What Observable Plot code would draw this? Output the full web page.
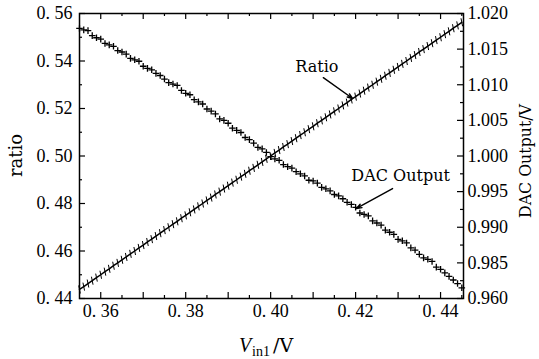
<!DOCTYPE html>
<html><head><meta charset="utf-8">
<script src="https://cdn.jsdelivr.net/npm/d3@7"></script>
<script src="https://cdn.jsdelivr.net/npm/@observablehq/plot@0.6"></script>
<style>body{margin:0;background:#fff} svg{display:block}</style>
</head><body><div id="chart"></div>
<script>
// ---- data ----
const vin = [0.355,0.356,0.357,0.358,0.359,0.360,0.361,0.362,0.363,0.364,
0.365,0.366,0.367,0.368,0.369,0.370,0.371,0.372,0.373,0.374,
0.375,0.376,0.377,0.378,0.379,0.380,0.381,0.382,0.383,0.384,
0.385,0.386,0.387,0.388,0.389,0.390,0.391,0.392,0.393,0.394,
0.395,0.396,0.397,0.398,0.399,0.400,0.401,0.402,0.403,0.404,
0.405,0.406,0.407,0.408,0.409,0.410,0.411,0.412,0.413,0.414,
0.415,0.416,0.417,0.418,0.419,0.420,0.421,0.422,0.423,0.424,
0.425,0.426,0.427,0.428,0.429,0.430,0.431,0.432,0.433,0.434,
0.435,0.436,0.437,0.438,0.439,0.440,0.441,0.442,0.443,0.444,0.445];
const ratio = [0.4438,0.4450,0.4463,0.4475,0.4488,0.4500,0.4513,0.4525,0.4538,0.4550,
0.4563,0.4575,0.4588,0.4600,0.4613,0.4625,0.4638,0.4650,0.4663,0.4675,
0.4688,0.4700,0.4713,0.4725,0.4738,0.4750,0.4763,0.4775,0.4788,0.4800,
0.4813,0.4825,0.4838,0.4850,0.4863,0.4875,0.4888,0.4900,0.4913,0.4925,
0.4938,0.4950,0.4963,0.4975,0.4988,0.5000,0.5013,0.5025,0.5038,0.5050,
0.5063,0.5075,0.5088,0.5100,0.5113,0.5125,0.5138,0.5150,0.5163,0.5175,
0.5188,0.5200,0.5213,0.5225,0.5238,0.5250,0.5263,0.5275,0.5288,0.5300,
0.5313,0.5325,0.5338,0.5350,0.5363,0.5375,0.5388,0.5400,0.5413,0.5425,
0.5438,0.5450,0.5463,0.5475,0.5488,0.5500,0.5513,0.5525,0.5538,0.5550,0.5563];
const dacOutput = [1.0179,1.0177,1.0176,1.0169,1.0166,1.0164,1.0158,1.0156,1.0154,1.0148,
1.0146,1.0143,1.0137,1.0135,1.0133,1.0126,1.0123,1.0121,1.0116,1.0113,
1.0108,1.0103,1.0101,1.0099,1.0092,1.0088,1.0086,1.0079,1.0076,1.0073,
1.0066,1.0063,1.0059,1.0052,1.0050,1.0046,1.0039,1.0036,1.0033,1.0026,
1.0023,1.0018,1.0012,1.0010,1.0005,0.9999,0.9996,0.9994,0.9988,0.9985,
0.9983,0.9978,0.9975,0.9972,0.9966,0.9965,0.9962,0.9956,0.9954,0.9951,
0.9946,0.9944,0.9940,0.9935,0.9932,0.9928,0.9920,0.9918,0.9916,0.9909,
0.9906,0.9903,0.9896,0.9893,0.9890,0.9883,0.9881,0.9878,0.9871,0.9868,
0.9862,0.9857,0.9855,0.9852,0.9844,0.9841,0.9836,0.9831,0.9826,0.9821,0.9815];

const xTickValues = [0.36,0.38,0.40,0.42,0.44];
const xTickLabels = ["0. 36","0. 38","0. 40","0. 42","0. 44"];
const xMajorTicks = [0.36,0.37,0.38,0.39,0.40,0.41,0.42,0.43,0.44];
const xMinorTicks = [0.365,0.375,0.385,0.395,0.405,0.415,0.425,0.435,0.445];
const ratioTickValues = [0.44,0.46,0.48,0.50,0.52,0.54,0.56];
const ratioTickLabels = ["0. 44","0. 46","0. 48","0. 50","0. 52","0. 54","0. 56"];
const ratioMinorTicks = [0.45,0.47,0.49,0.51,0.53,0.55];
const dacTickValues = [0.980,0.985,0.990,0.995,1.000,1.005,1.010,1.015,1.020];
const dacTickLabels = ["0.960","0.985","0.990","0.995","1.000","1.005","1.010","1.015","1.020"];
const dacMinorTicks = [0.9825,0.9875,0.9925,0.9975,1.0025,1.0075,1.0125,1.0175];
const annotations = [{label: "Ratio", x: 0.4058, y: 0.5352}, {label: "DAC Output", x: 0.4190, y: 0.4893}];
const pointers = [{x1: 0.4124, y1: 0.5330, x2: 0.4193, y2: 0.5242}, {x1: 0.4287, y1: 0.4863, x2: 0.4202, y2: 0.4779}];

// ---- build ----
const dacToRatio = v => 0.44 + (v - 0.98) * 3;   // right axis mapped onto left scale
const ratioRows = vin.map((x, i) => ({x, y: ratio[i]}));
const dacRows = vin.map((x, i) => ({x, y: dacToRatio(dacOutput[i])}));
const dacTickPos = dacTickValues.map(dacToRatio);
const dacMinorPos = dacMinorTicks.map(dacToRatio);

const W = 539, H = 359, mL = 79, mR = 76, mT = 13, mB = 61;
const innerW = W - mL - mR, innerH = H - mT - mB;

const vbar = {draw(ctx) { ctx.moveTo(-0.8, -4); ctx.lineTo(0.8, 4); }};
const plus = {draw(ctx) { ctx.moveTo(-3.3, 0); ctx.lineTo(3.3, 0); ctx.moveTo(0, -3.3); ctx.lineTo(0, 3.3); }};

const lookup = (vals, labels) => d => { const i = vals.findIndex(v => Math.abs(v - d) < 1e-9); return i >= 0 ? labels[i] : ""; };

const plot = Plot.plot({
  width: W, height: H,
  marginLeft: mL, marginRight: mR, marginTop: mT, marginBottom: mB,
  x: {domain: [0.355, 0.4454]},
  y: {domain: [0.44, 0.56]},
  style: {fontFamily: "'Liberation Serif', serif", fontSize: "18px", color: "black", background: "white"},
  marks: [
    // inward ticks
    Plot.tickX(xMajorTicks, {x: d => d, insetTop: innerH - 6, stroke: "black", strokeWidth: 1.2}),
    Plot.tickX(xMinorTicks, {x: d => d, insetTop: innerH - 3, stroke: "black", strokeWidth: 1.2}),
    Plot.tickX(xMajorTicks, {x: d => d, insetBottom: innerH - 6, stroke: "black", strokeWidth: 1.2}),
    Plot.tickX(xMinorTicks, {x: d => d, insetBottom: innerH - 3, stroke: "black", strokeWidth: 1.2}),
    Plot.tickY(ratioTickValues, {y: d => d, insetRight: innerW - 6, stroke: "black", strokeWidth: 1.2}),
    Plot.tickY(ratioMinorTicks, {y: d => d, insetRight: innerW - 3, stroke: "black", strokeWidth: 1.2}),
    Plot.tickY(dacTickPos, {y: d => d, insetLeft: innerW - 6, stroke: "black", strokeWidth: 1.2}),
    Plot.tickY(dacMinorPos, {y: d => d, insetLeft: innerW - 3, stroke: "black", strokeWidth: 1.2}),
    // tick labels
    Plot.axisX(xTickValues, {anchor: "bottom", tickSize: 0, tickPadding: 6, tickFormat: lookup(xTickValues, xTickLabels), label: null}),
    Plot.axisY(ratioTickValues, {anchor: "left", tickSize: 0, tickPadding: 7, tickFormat: lookup(ratioTickValues, ratioTickLabels), label: null}),
    Plot.axisY(dacTickPos, {anchor: "right", tickSize: 0, tickPadding: 4, tickFormat: lookup(dacTickPos, dacTickLabels), label: null}),
    // data
    Plot.line(ratioRows, {x: "x", y: "y", stroke: "black", strokeWidth: 1.5}),
    Plot.dot(ratioRows, {x: "x", y: "y", symbol: vbar, fill: "none", stroke: "black", strokeWidth: 1}),
    Plot.dot(dacRows, {x: "x", y: "y", symbol: plus, fill: "none", stroke: "black", strokeWidth: 1.3}),
    // annotations
    Plot.arrow(pointers, {x1: "x1", y1: "y1", x2: "x2", y2: "y2", stroke: "black", strokeWidth: 1.4, headLength: 6, headAngle: 40, bend: 0}),
    Plot.text(annotations, {x: "x", y: "y", text: "label", textAnchor: "start", lineAnchor: "bottom", fontFamily: "'DejaVu Serif', serif", fontSize: 16, fill: "black"}),
    Plot.frame({stroke: "black", strokeWidth: 1.5})
  ]
});

const svg = d3.select(plot);
svg.append("text")
  .attr("transform", `translate(22,${mT + innerH / 2}) rotate(-90)`)
  .attr("text-anchor", "middle").attr("font-family", "'DejaVu Serif', serif").attr("font-size", 18)
  .attr("fill", "black").text("ratio");
svg.append("text")
  .attr("transform", `translate(531,${161}) rotate(-90)`)
  .attr("text-anchor", "middle").attr("font-family", "'DejaVu Serif', serif").attr("font-size", 15.8)
  .attr("fill", "black").text("DAC Output/V");
const xl = svg.append("text")
  .attr("x", 266).attr("y", 352)
  .attr("font-family", "'Liberation Serif', serif").attr("font-size", 20).attr("fill", "black");
xl.append("tspan").attr("font-style", "italic").text("V");
xl.append("tspan").attr("font-size", 14).attr("dy", 4).attr("dx", 1).text("in1");
xl.append("tspan").attr("dy", -4).attr("dx", 3).attr("font-family", "'DejaVu Serif', serif").attr("font-size", 19).text("/V");

document.getElementById("chart").appendChild(plot);
</script>
</body></html>
